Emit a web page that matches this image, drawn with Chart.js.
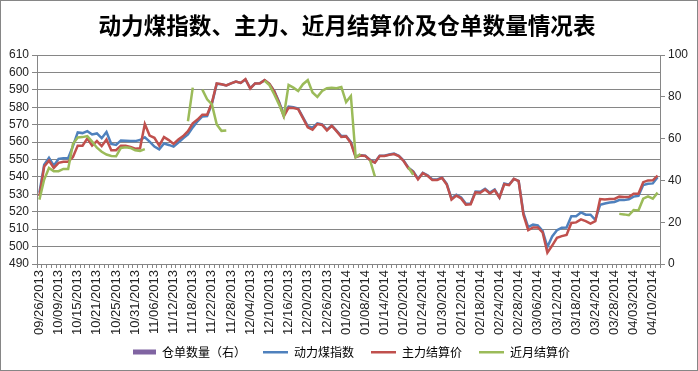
<!DOCTYPE html>
<html><head><meta charset="utf-8">
<script src="https://cdn.jsdelivr.net/npm/chart.js@4/dist/chart.umd.min.js"></script>
<style>html,body{margin:0;padding:0;background:#fff}canvas{display:block}</style>
</head><body>
<canvas id="c" width="698" height="371"></canvas>
<script>
const TITLE = '动力煤指数、主力、近月结算价及仓单数量情况表';
const dates = [
'09/26/2013','09/27/2013','09/30/2013',
'10/08/2013','10/09/2013','10/10/2013','10/11/2013','10/14/2013','10/15/2013','10/16/2013','10/17/2013','10/18/2013','10/21/2013','10/22/2013','10/23/2013','10/24/2013','10/25/2013','10/28/2013','10/29/2013','10/30/2013','10/31/2013',
'11/01/2013','11/04/2013','11/05/2013','11/06/2013','11/07/2013','11/08/2013','11/11/2013','11/12/2013','11/13/2013','11/14/2013','11/15/2013','11/18/2013','11/19/2013','11/20/2013','11/21/2013','11/22/2013','11/25/2013','11/26/2013','11/27/2013','11/28/2013','11/29/2013',
'12/02/2013','12/03/2013','12/04/2013','12/05/2013','12/06/2013','12/09/2013','12/10/2013','12/11/2013','12/12/2013','12/13/2013','12/16/2013','12/17/2013','12/18/2013','12/19/2013','12/20/2013','12/23/2013','12/24/2013','12/25/2013','12/26/2013','12/27/2013','12/30/2013','12/31/2013',
'01/02/2014','01/03/2014','01/06/2014','01/07/2014','01/08/2014','01/09/2014','01/10/2014','01/13/2014','01/14/2014','01/15/2014','01/16/2014','01/17/2014','01/20/2014','01/21/2014','01/22/2014','01/23/2014','01/24/2014','01/27/2014','01/28/2014','01/29/2014','01/30/2014',
'02/07/2014','02/10/2014','02/11/2014','02/12/2014','02/13/2014','02/14/2014','02/17/2014','02/18/2014','02/19/2014','02/20/2014','02/21/2014','02/24/2014','02/25/2014','02/26/2014','02/27/2014','02/28/2014',
'03/03/2014','03/04/2014','03/05/2014','03/06/2014','03/07/2014','03/10/2014','03/11/2014','03/12/2014','03/13/2014','03/14/2014','03/17/2014','03/18/2014','03/19/2014','03/20/2014','03/21/2014','03/24/2014','03/25/2014','03/26/2014','03/27/2014','03/28/2014','03/31/2014',
'04/01/2014','04/02/2014','04/03/2014','04/04/2014','04/08/2014','04/09/2014','04/10/2014','04/11/2014'
];
const leftTicks = [490,500,510,520,530,540,550,560,570,580,590,600,610];
const rightTicks = [0,20,40,60,80,100];

// 仓单数量（右） — no bars visible in the reference
const warrantQty = [];

// 动力煤指数
const coalIndex = [
531,547,551,546.5,550.4,550.8,550.8,557.7,565.6,565.2,
566.3,564.4,565,562.3,565.8,559,558.4,561,560.8,560.6,
560.6,561.2,562.8,560.3,557.5,555.9,559.2,558.4,557.4,559.8,
562.2,564.4,568.5,572,574.8,575,582,593.5,593.3,592.6,
593.8,594.8,594,596,591,593.7,593.9,595.5,593.4,589.5,
583.2,575.8,580.4,580,579.3,574.2,569.2,568.3,570.8,570.2,
567.2,569.6,566.6,563.5,563.5,560,551.6,552.5,552.2,549.8,
548.4,552.2,552.2,552.9,553.4,552.2,549.4,545.3,543.2,539,
542.4,541,538.6,538.6,539.7,536,527.6,529.8,528.2,524.6,
524.8,531.6,531.5,533.2,531,532.8,528.2,536.3,535.6,538.9,
537.8,519.4,511.2,512.6,512.2,509,499.8,505.8,509.4,510.8,
511,517.5,517.5,519.6,518.3,518.3,515.4,524,524.8,525.3,
525.6,526.7,526.7,527.2,528.7,529.2,535.4,536.1,536.3,539.8
];

// 主力结算价
const mainSettle = [
529,546,549.4,545.2,548.1,548.7,548.8,551.5,558,558,
562.1,558,560.6,557.7,561.5,555.4,555.4,558,558,557.3,
556.2,556.5,570.4,563.8,562.5,558,562.9,561.2,559,561.5,
563.5,566.3,570.8,573,575.8,575.8,582.7,593.8,593.3,592.6,
593.8,594.8,594,596.2,590.8,593.7,593.7,595.7,593.5,589.2,
582.7,574.8,579.8,579.6,579,573.8,568.5,567.1,570.4,569.9,
566.7,569.4,566.3,563,563.3,559.5,551.4,552.3,552.1,549.6,
548.2,552,552,552.7,553.2,552,549.2,545,543,538.6,
542.2,540.7,538.2,538.2,539.5,535.7,527,529.3,527.7,524.1,
524.3,531.2,530.9,532.8,530.5,532.4,528.2,535.8,535.3,538.9,
537.6,518.3,509.4,511,511,508.2,496.5,500.6,505,506,
506.7,513.6,513.9,515.6,514.6,513.2,514.6,527.3,527,527.3,
527.4,528.7,528.5,528.5,530.4,530.4,537,538,538.1,540.8
];

// 近月结算价
const nearSettle = [
527,538.5,545.2,543.3,543.3,544.6,544.6,559,562.7,562.9,
563.5,560.3,556.8,554.5,552.9,552.1,551.9,556.7,557.1,556.7,
555.3,555,556,null,null,null,null,null,null,null,
null,572,591.3,null,590.2,584.6,581.7,570.2,566.5,566.7,
null,null,null,null,null,null,null,595.3,592.8,587.5,
581.7,575,592.9,591.3,589.4,593.3,595.6,588.5,586,589.4,
591,591.3,591,591.7,583,586.5,551.3,553.2,null,549.6,
540.3,null,null,null,null,null,null,545.6,541.3,null,
null,null,null,null,null,null,null,null,null,null,
null,null,null,null,null,null,null,null,null,null,
null,null,null,null,null,null,null,null,null,null,
null,null,null,null,null,null,null,null,null,null,
null,518.8,518.5,518,521,520.8,527.5,528.8,527.5,531
];

const AXIS = '#868686';
const COLORS = ['#8064A2', '#4F81BD', '#C0504D', '#9BBB59'];
const tickFont = {family: "'Liberation Sans', Arial, sans-serif", size: 12};
const xFont = {family: "'Liberation Sans', Arial, sans-serif", size: 13};
const cjk = "'Noto Sans CJK SC', sans-serif";

// legend swatches: blank space on the left widens the gap between legend items
function swatch(color, isRect) {
  const cv = document.createElement('canvas');
  cv.width = 32; cv.height = 6;
  const g = cv.getContext('2d');
  g.fillStyle = color;
  if (isRect) g.fillRect(9, 0.5, 23, 5);
  else g.fillRect(7, 2, 25, 2.5);
  return cv;
}
const swatches = COLORS.map((c, i) => swatch(c, i === 0));

const framePlugin = {
  id: 'frame',
  beforeDraw(chart) {
    const c = chart.ctx; c.save(); c.fillStyle = '#fff'; c.fillRect(0, 0, chart.width, chart.height); c.restore();
  },
  afterDraw(chart) {
    const c = chart.ctx; c.save(); c.strokeStyle = AXIS; c.lineWidth = 1;
    c.strokeRect(0.5, 0.5, chart.width - 1, chart.height - 1); c.restore();
  }
};

new Chart(document.getElementById('c'), {
  data: {
    labels: dates,
    datasets: [
      {type: 'bar', label: '仓单数量（右）', data: warrantQty, yAxisID: 'y1', backgroundColor: COLORS[0], borderWidth: 0, order: 3},
      {type: 'line', label: '动力煤指数', data: coalIndex, yAxisID: 'y', borderColor: COLORS[1], backgroundColor: COLORS[1], borderWidth: 2.5, pointRadius: 0, tension: 0, order: 2},
      {type: 'line', label: '主力结算价', data: mainSettle, yAxisID: 'y', borderColor: COLORS[2], backgroundColor: COLORS[2], borderWidth: 2.5, pointRadius: 0, tension: 0, order: 1},
      {type: 'line', label: '近月结算价', data: nearSettle, yAxisID: 'y', borderColor: COLORS[3], backgroundColor: COLORS[3], borderWidth: 2.5, pointRadius: 0, tension: 0, spanGaps: false, order: 0}
    ]
  },
  options: {
    responsive: false,
    animation: false,
    events: [],
    layout: {padding: {left: 0, right: 4, top: 0, bottom: 3}},
    plugins: {
      title: {display: true, text: TITLE, color: '#000', font: {family: cjk, size: 22.6, weight: 'bold'}, padding: {top: 12, bottom: 16}},
      legend: {
        position: 'bottom',
        labels: {
          usePointStyle: true, pointStyleWidth: 32, boxHeight: 6, padding: 10, color: '#000', font: {family: cjk, size: 12},
          sort: (a, b) => a.datasetIndex - b.datasetIndex,
          generateLabels: chart => Chart.defaults.plugins.legend.labels.generateLabels(chart).map(it => {
            it.pointStyle = swatches[it.datasetIndex];
            return it;
          })
        }
      },
      tooltip: {enabled: false}
    },
    scales: {
      x: {
        type: 'category', offset: true,
        grid: {offset: true, drawOnChartArea: false, drawTicks: true, tickLength: 4, color: AXIS},
        border: {color: AXIS},
        ticks: {autoSkip: false, maxRotation: 90, minRotation: 90, padding: 2, color: '#222', font: xFont,
          callback: (v, i) => (i % 4 === 0 ? dates[i] : '')},
        afterFit: s => { s.height = 72; }
      },
      y: {
        position: 'left', min: leftTicks[0], max: leftTicks[leftTicks.length - 1],
        afterBuildTicks: s => { s.ticks = leftTicks.map(v => ({value: v})); },
        grid: {color: AXIS, tickLength: 5},
        border: {color: AXIS},
        ticks: {autoSkip: false, color: '#222', font: tickFont, padding: 3},
        afterFit: s => { s.width = 37; }
      },
      y1: {
        position: 'right', min: rightTicks[0], max: rightTicks[rightTicks.length - 1],
        afterBuildTicks: s => { s.ticks = rightTicks.map(v => ({value: v})); },
        grid: {drawOnChartArea: false, color: AXIS, tickLength: 5},
        border: {color: AXIS},
        ticks: {autoSkip: false, color: '#222', font: tickFont, padding: 3},
        afterFit: s => { s.width = 34; }
      }
    }
  },
  plugins: [framePlugin]
});
</script>
</body></html>
